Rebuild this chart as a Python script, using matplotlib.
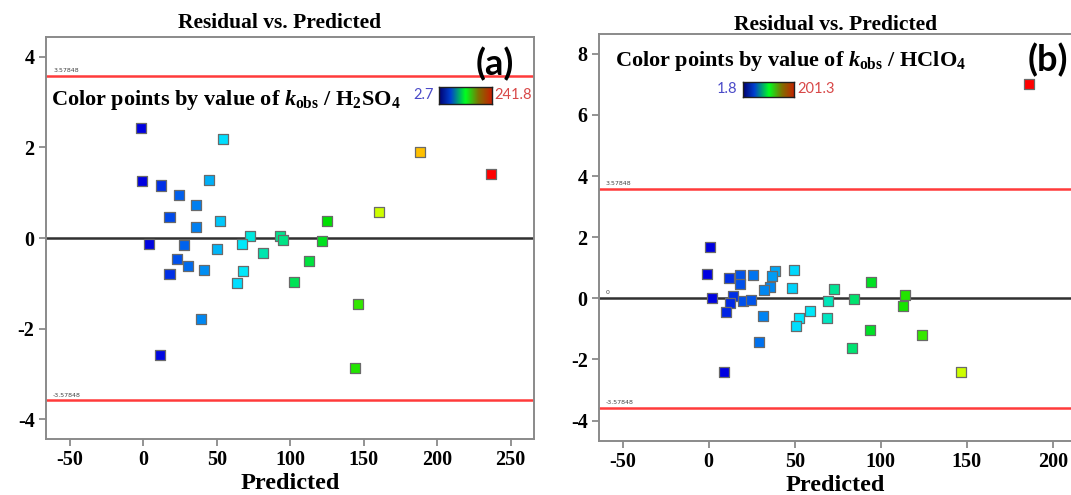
import matplotlib
matplotlib.use("Agg")
import matplotlib.pyplot as plt
import numpy as np
from matplotlib.colors import LinearSegmentedColormap, Normalize

plt.rcParams['mathtext.fontset'] = 'custom'
plt.rcParams['mathtext.rm'] = 'Liberation Serif:bold'
plt.rcParams['mathtext.bf'] = 'Liberation Serif:bold'
plt.rcParams['mathtext.it'] = 'Liberation Serif:italic:bold'

# ---- data (a) H2SO4 ----
pred_a = [-1.9, 54.4, 188.6, 236.4, -0.7, 11.7, 44.8, 24.1, 35.8, 17.8, 52.5, 35.6,
          160.3, 125.1, 72.4, 93.0, 94.9, 121.4, 4.0, 27.6, 50.4, 67.5, 23.0, 30.7,
          41.5, 67.9, 81.8, 17.8, 63.7, 112.5, 102.6, 146.2, 39.4, 11.5, 144.3]
resid_a = [2.42, 2.19, 1.90, 1.42, 1.26, 1.16, 1.28, 0.94, 0.74, 0.47, 0.37, 0.25,
           0.57, 0.38, 0.04, 0.05, -0.05, -0.06, -0.12, -0.16, -0.24, -0.14, -0.46, -0.62,
           -0.71, -0.73, -0.32, -0.79, -1.00, -0.51, -0.97, -1.46, -1.78, -2.57, -2.86]
kobs_a = [2.7, 60, 194, 241.8, 3.5, 15, 48, 27, 36, 22, 55, 36,
          170, 122, 70, 89, 91, 115, 4, 28, 50, 64, 24, 30,
          40, 64, 82, 15, 60, 108, 102, 134, 38, 5, 130]
range_a = (2.7, 241.8)

# ---- data (b) HClO4 ----
pred_b = [0.8, -1.0, 11.7, 18.1, 18.1, 25.6, 38.7, 36.5, 49.4, 48.2, 35.5, 32.3,
          1.8, 14.1, 12.1, 20.2, 24.6, 10.1, 31.7, 29.0, 8.7, 52.6, 51.0, 59.1,
          68.7, 69.4, 72.8, 84.5, 83.1, 94.6, 94.0, 114.3, 112.7, 123.8, 146.8, 186.0]
resid_b = [1.68, 0.79, 0.65, 0.75, 0.47, 0.75, 0.90, 0.72, 0.92, 0.33, 0.37, 0.26,
           0.00, 0.08, -0.15, -0.10, -0.05, -0.46, -0.57, -1.44, -2.40, -0.66, -0.92, -0.43,
           -0.66, -0.08, 0.31, -0.02, -1.64, 0.52, -1.05, 0.12, -0.24, -1.19, -2.41, 7.02]
kobs_b = [2, 2.5, 12, 20, 19, 27, 38, 36, 48, 47, 31, 31,
          3, 12, 11, 19, 20, 10, 30, 26, 2, 52, 50, 53,
          64, 65, 72, 80, 79, 95, 94, 108, 106, 112, 142, 201.3]
range_b = (1.8, 201.3)

limit = 3.57848

point_cmap = LinearSegmentedColormap.from_list(
    "pts", [(0.0, '#0000e0'), (0.25, '#00e8ff'), (0.5, '#00e000'),
            (0.70, '#ccff00'), (0.80, '#ffc000'), (1.0, '#ff0000')])
bar_cmap = LinearSegmentedColormap.from_list(
    "bar", [(0.0, '#000070'), (0.22, '#0040d0'), (0.5, '#00ff20'),
            (0.75, '#807000'), (1.0, '#c81e00')])

serif = 'Liberation Serif'

fig = plt.figure(figsize=(10.71, 4.95), dpi=100)
W, H = 1071, 495


def px_axes(l, t, r, b):
    return fig.add_axes([l / W, 1 - b / H, (r - l) / W, (b - t) / H])


def panel(ax, pred, resid, kobs, krange, xlim, ylim, yticks, xticks, show_zero_label):
    ax.set_xlim(*xlim)
    ax.set_ylim(*ylim)
    ax.axhline(limit, color='#ff3b3b', lw=1.8, zorder=1)
    ax.axhline(-limit, color='#ff3b3b', lw=1.8, zorder=1)
    ax.axhline(0, color='#303030', lw=1.8, zorder=1)
    norm = Normalize(*krange)
    ax.scatter(pred, resid, c=kobs, cmap=point_cmap, norm=norm, marker='s', s=52,
               edgecolors='#6a6a6a', linewidths=0.9, zorder=3)
    x0 = xlim[0] + 0.015 * (xlim[1] - xlim[0])
    dy = 0.06 * (ylim[1] - ylim[0]) / 9
    ax.text(x0, limit + dy, '3.57848', fontsize=4.5, color='#444444', va='bottom')
    ax.text(x0, -limit + dy, '-3.57848', fontsize=4.5, color='#444444', va='bottom')
    if show_zero_label:
        ax.text(x0, 0.12, '0', fontsize=4.5, color='#444444', va='bottom')
    ax.set_xticks(xticks)
    ax.set_yticks(yticks)
    ax.set_xticklabels([str(v) for v in xticks], family=serif, weight='bold', fontsize=14.5)
    ax.set_yticklabels([str(v) for v in yticks], family=serif, weight='bold', fontsize=14.5)
    ax.tick_params(direction='out', length=5, width=1.2, color='#808080', pad=3)
    for sp in ax.spines.values():
        sp.set_color('#8a8a8a')
        sp.set_linewidth(1.4)
    ax.set_xlabel('Predicted', family=serif, weight='bold', fontsize=17.5, labelpad=2)


ax_a = px_axes(45.7, 37.3, 534, 439.3)
panel(ax_a, pred_a, resid_a, kobs_a, range_a, (-66.5, 266), (-4.44, 4.43),
      [-4, -2, 0, 2, 4], [-50, 0, 50, 100, 150, 200, 250], False)

ax_b = px_axes(598.8, 33.7, 1071, 441)
panel(ax_b, pred_b, resid_b, kobs_b, range_b, (-63.9, 210.6), (-4.67, 8.66),
      [-4, -2, 0, 2, 4, 6, 8], [-50, 0, 50, 100, 150, 200], True)
ax_b.spines['right'].set_visible(False)

# titles
fig.text(280 / W, 1 - 23.5 / H, 'Residual vs. Predicted', family=serif, weight='bold',
         fontsize=15.5, ha='center', va='center')
fig.text(836 / W, 1 - 25.5 / H, 'Residual vs. Predicted', family=serif, weight='bold',
         fontsize=15.5, ha='center', va='center')

# panel letters
fig.text(495 / W, 1 - 64 / H, '(a)', family='Lato', weight='bold', fontsize=26,
         ha='center', va='center')
fig.text(1048 / W, 1 - 60 / H, '(b)', family='Lato', weight='bold', fontsize=26,
         ha='center', va='center')

# colour legends
fig.text(51 / W, 1 - 100 / H, r'Color points by value of $k_{\mathrm{obs}}$ / H$_2$SO$_4$',
         family=serif, weight='bold', fontsize=16, ha='left', va='center')
fig.text(615 / W, 1 - 61 / H, r'Color points by value of $k_{\mathrm{obs}}$ / HClO$_4$',
         family=serif, weight='bold', fontsize=16, ha='left', va='center')

grad = np.linspace(0, 1, 256)[None, :]


def colour_key(l, t, r, b, lo, hi, ycen):
    cax = px_axes(l, t, r, b)
    cax.imshow(grad, aspect='auto', cmap=bar_cmap, extent=(0, 1, 0, 1))
    cax.set_xticks([])
    cax.set_yticks([])
    for sp in cax.spines.values():
        sp.set_color('#202020')
        sp.set_linewidth(1.0)
    fig.text((l - 5) / W, 1 - ycen / H, lo, family='Lato', fontsize=10.5,
             color='#4a4ac8', ha='right', va='center')
    fig.text((r + 3) / W, 1 - ycen / H, hi, family='Lato', fontsize=10.5,
             color='#d84848', ha='left', va='center')


colour_key(439, 87.3, 491.7, 104, '2.7', '241.8', 95)
colour_key(742.7, 82, 794, 96.7, '1.8', '201.3', 89)

fig.savefig('out.png', dpi=100)
